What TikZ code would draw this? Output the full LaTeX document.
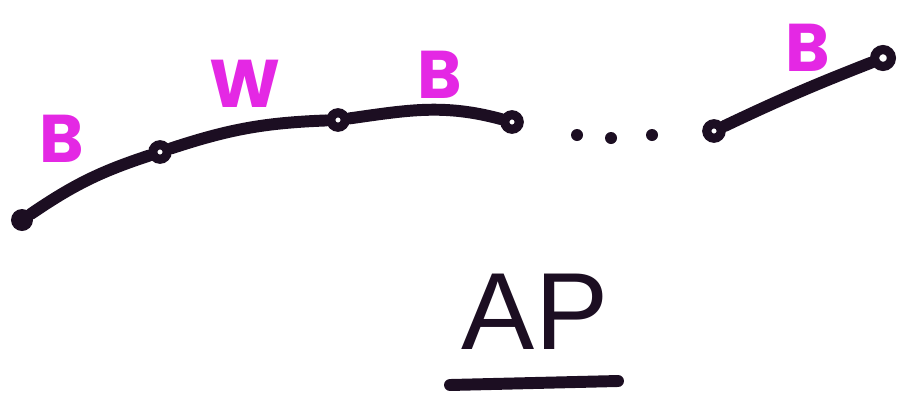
\documentclass[tikz,border=0pt]{standalone}
\usepackage{fontspec}
\newfontfamily\labelfont{Poppins}
\newfontfamily\apfont{Liberation Sans}
\definecolor{ink}{RGB}{28,14,34}
\definecolor{mag}{RGB}{228,40,228}
\tikzset{
  pen/.style={line width=8.5pt,color=ink,line cap=round},
  ring/.style={circle,draw=ink,line width=6.5pt,fill=white,minimum size=0.36cm,inner sep=0pt},
  blob/.style={circle,fill=ink,minimum size=0.55cm,inner sep=0pt},
  col/.style={text=mag,font=\labelfont\bfseries\fontsize{48}{48}\selectfont}
}
\begin{document}
\begin{tikzpicture}[x=0.025cm,y=-0.025cm]
			\useasboundingbox (0,0) rectangle (906,396);
			% vertices of the path
			\node[blob] (v1) at (22,220) {};
			\node[ring] (v2) at (160,152) {};
			\node[ring] (v3) at (338,120) {};
			\node[ring] (v4) at (512,122) {};
			\node[ring] (v5) at (714,131) {};
			\node[ring,minimum size=0.42cm] (v6) at (883,58) {};
			\draw[pen] (v1) to[bend left=8] (v2);
			\draw[pen] (v2) to[bend left=8] (v3);
			\draw[pen] (v3) to[out=8,in=165] (v4);
			\draw[pen] (v5) to[bend left=2] (v6);
			% the dots
			\fill[ink] (577,135) circle(6) (611,138) circle(6) (652,135) circle(6);
			% colours of the edges
			\node[col] (b1) at (62,139) {B};
			\node[col] (w) at (245,84) {W};
			\node[col] (b2) at (440,75) {B};
			\node[col] (b3) at (808,48) {B};
			\node[text=ink,font=\apfont\fontsize{78}{78}\selectfont] (ap) at (535,312) {AP};
			\draw[pen] (450,385) -- (618,381);
\end{tikzpicture}
\end{document}
